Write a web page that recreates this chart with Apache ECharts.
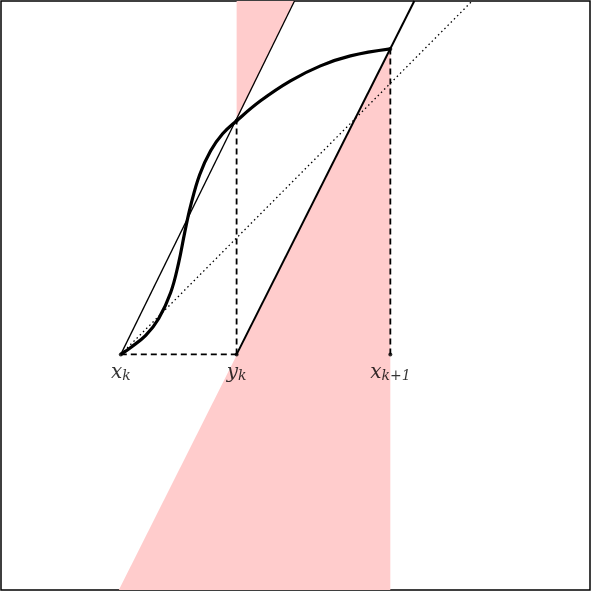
<!DOCTYPE html>
<html><head><meta charset="utf-8">
<script src="https://cdn.jsdelivr.net/npm/echarts@6/dist/echarts.min.js"></script>
<style>html,body{margin:0;padding:0;background:#fff}#c{width:592px;height:594px}</style>
</head><body><div id="c"></div>
<script>
const curve=[[120,354],[130,347],[145,335],[158,318],[170,292],[178,262],[184,232],[190,205],[199,174],[210,150],[222,133],[236,120],[260,100],[290,80],[320,65],[350,55],[390,48]];
const line1=[[120,354],[294,0]];
const line2=[[236,354],[414,0]];
const dotted=[[120,354],[472,0]];
const pinkTop=[[236,0],[294,0],[236,120]];
const pinkBottom=[[390,48],[390,590],[118,590]];
const dashed=[[[120,354],[236,354]],[[236,354],[236,120]],[[390,354],[390,48]]];
const labels=[{p:[120,372],m:'x',s:'k'},{p:[236,372],m:'y',s:'k'},{p:[390,372],m:'x',s:'k+1'}];
const ch=echarts.init(document.getElementById('c'));
const poly=(pts)=>({type:'custom',data:[0],renderItem:(p,api)=>({type:'polygon',shape:{points:pts.map(q=>api.coord(q))},style:{fill:'#ffcccc'}}),z:1});
const series=[poly(pinkTop),poly(pinkBottom),
 {type:'line',data:line1,showSymbol:false,lineStyle:{color:'#000',width:1.3},z:3},
 {type:'line',data:line2,showSymbol:false,lineStyle:{color:'#000',width:2},z:3},
 {type:'line',data:dotted,showSymbol:false,lineStyle:{color:'#000',width:1.3,type:[1.5,3]},z:3},
 {type:'line',data:curve,smooth:0.4,showSymbol:false,lineStyle:{color:'#000',width:3.2},z:4}];
dashed.forEach(d=>series.push({type:'line',data:d,showSymbol:false,lineStyle:{color:'#000',width:1.8,type:[6,4]},z:3}));
series.push({type:'scatter',data:[[120,354],[236,354],[390,354],[236,120],[390,48]],symbolSize:4,itemStyle:{color:'#000'},z:5});
series.push({type:'scatter',symbolSize:0,z:6,data:labels.map(l=>({value:l.p,label:{show:true,position:'inside',formatter:'{m|'+l.m+'}{s|'+l.s+'}',rich:{m:{fontFamily:'DejaVu Serif',fontStyle:'italic',fontSize:20,color:'#000'},s:{fontFamily:'DejaVu Serif',fontStyle:'italic',fontSize:14,color:'#000',verticalAlign:'bottom',padding:[8,0,0,0]}}}}))});
ch.setOption({animation:false,
 grid:{left:1,top:1,width:589,height:589,show:true,borderColor:'#000',borderWidth:1.5,backgroundColor:'transparent'},
 xAxis:{type:'value',min:0,max:590,show:false},
 yAxis:{type:'value',min:0,max:590,inverse:true,show:false},
 series});
</script></body></html>
